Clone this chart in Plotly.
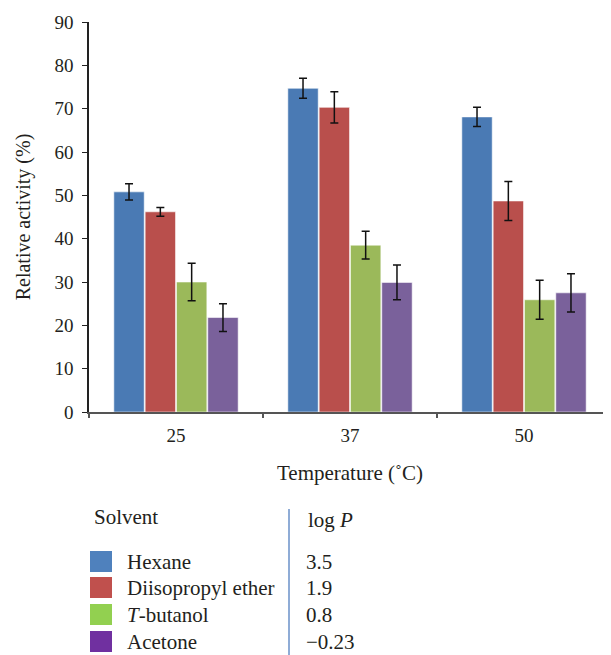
import plotly.graph_objects as go

temps = ["25", "37", "50"]
solvents = ["Hexane", "Diisopropyl ether", "<i>T</i>-butanol", "Acetone"]
log_p = ["3.5", "1.9", "0.8", "\u22120.23"]
hexane = [50.8, 74.7, 68.1]
hexane_err = [1.9, 2.3, 2.2]
diisopropyl = [46.2, 70.3, 48.7]
diisopropyl_err = [1.0, 3.6, 4.5]
tbutanol = [30.0, 38.5, 25.9]
tbutanol_err = [4.3, 3.2, 4.5]
acetone = [21.8, 29.9, 27.5]
acetone_err = [3.2, 4.0, 4.4]

values = [hexane, diisopropyl, tbutanol, acetone]
errors = [hexane_err, diisopropyl_err, tbutanol_err, acetone_err]
bar_colors = ["#4A7AB4", "#B94F4C", "#9BB95A", "#7A619B"]
swatch_colors = ["#4F81BD", "#C0504D", "#92D050", "#7030A0"]

# page body has an 8px margin; figure is sized/placed to compensate
OFF = 8
W, H = 603, 647
ML, MR, MT, MB = 81, 0, 14, 243
FONT = "Liberation Serif"
TXT = "#231F20"

fig = go.Figure()
for name, v, e, c in zip(solvents, values, errors, bar_colors):
    fig.add_trace(go.Bar(
        x=temps, y=v, name=name,
        marker=dict(color=c, line=dict(color="rgba(255,255,255,0.55)", width=1)),
        error_y=dict(type="data", array=e, visible=True, color="#111111",
                     thickness=1.5, width=4),
        showlegend=False,
    ))

# convert page pixel positions (reference coordinates) to paper coordinates
def px_x(x):
    return (x - OFF - ML) / (W - ML - MR)

def px_y(y):
    return (H - MB - (y - OFF)) / (H - MT - MB)

annotations = []
shapes = []
annotations.append(dict(text="Solvent", x=px_x(92), y=px_y(517), xref="paper", yref="paper",
                        xanchor="left", yanchor="middle", showarrow=False,
                        font=dict(family=FONT, size=21, color=TXT)))
annotations.append(dict(text="log <i>P</i>", x=px_x(306), y=px_y(520), xref="paper", yref="paper",
                        xanchor="left", yanchor="middle", showarrow=False,
                        font=dict(family=FONT, size=21, color=TXT)))
shapes.append(dict(type="line", xref="paper", yref="paper",
                   x0=px_x(289), x1=px_x(289), y0=px_y(509), y1=px_y(656),
                   line=dict(color="#6A90C8", width=1.5)))
row_top = [551, 577, 604, 631]
for i, (name, lp, sc) in enumerate(zip(solvents, log_p, swatch_colors)):
    t = row_top[i]
    shapes.append(dict(type="rect", xref="paper", yref="paper",
                       x0=px_x(90), x1=px_x(112), y0=px_y(t + 21), y1=px_y(t),
                       fillcolor=sc, line=dict(width=0)))
    annotations.append(dict(text=name, x=px_x(125), y=px_y(t + 11), xref="paper", yref="paper",
                            xanchor="left", yanchor="middle", showarrow=False,
                            font=dict(family=FONT, size=21, color=TXT)))
    annotations.append(dict(text=lp, x=px_x(304), y=px_y(t + 11), xref="paper", yref="paper",
                            xanchor="left", yanchor="middle", showarrow=False,
                            font=dict(family=FONT, size=21, color=TXT)))

fig.update_layout(
    width=W, height=H,
    margin=dict(l=ML, r=MR, t=MT, b=MB),
    paper_bgcolor="white", plot_bgcolor="white",
    barmode="group", bargap=0.28, bargroupgap=0.03,
    font=dict(family=FONT, size=19, color=TXT),
    annotations=annotations, shapes=shapes,
    xaxis=dict(
        title=dict(text="Temperature (\u02daC)", standoff=21, font=dict(size=21)),
        showline=True, linecolor="#555555", linewidth=2,
        ticks="outside", ticklen=4, tickcolor="#555555", tickwidth=1.5,
        tickson="boundaries", showgrid=False, tickfont=dict(size=19),
        ticklabelstandoff=5,
    ),
    yaxis=dict(
        title=dict(text="Relative activity (%)", standoff=18, font=dict(size=20)),
        range=[0, 90], dtick=10, showline=True, linecolor="#222", linewidth=1.5,
        ticks="outside", ticklen=5, tickcolor="#222", showgrid=False, zeroline=False,
        tickfont=dict(size=19), ticklabelstandoff=5,
    ),
)

fig.write_html("out.html")
